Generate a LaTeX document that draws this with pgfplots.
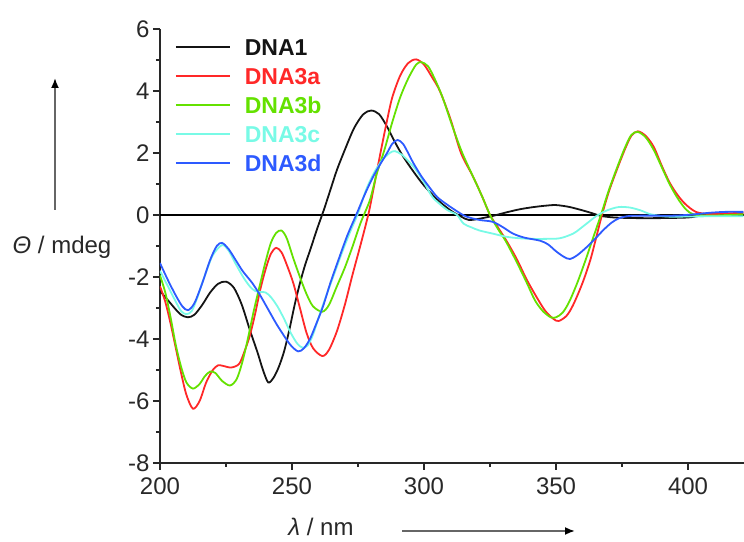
\documentclass[border=0pt]{standalone}
\usepackage{fontspec}
\setmainfont{Liberation Sans}
\usepackage{pgfplots}
\pgfplotsset{compat=1.18}
\usetikzlibrary{arrows.meta}

\definecolor{cdna1}{RGB}{20,20,20}
\definecolor{cdna3a}{RGB}{255,40,40}
\definecolor{cdna3b}{RGB}{100,225,0}
\definecolor{cdna3c}{RGB}{120,250,230}
\definecolor{cdna3d}{RGB}{45,90,255}
\definecolor{axgray}{RGB}{40,40,40}

\newcommand{\bigfont}{\fontsize{24}{28}\selectfont}
\newcommand{\legfont}{\fontsize{23}{27}\selectfont}

\begin{document}
\begin{tikzpicture}
\begin{axis}[
  scale only axis, width=584pt, height=434pt,
  xmin=200, xmax=421.2, ymin=-8, ymax=6,
  axis x line=bottom, axis y line=left,
  axis line style={-, line width=1.3pt, axgray},
  xtick={200,250,...,400}, minor x tick num=1,
  ytick={-8,-6,...,6}, minor y tick num=1,
  tick align=outside,
  major tick length=7pt, minor tick length=4pt,
  every tick/.style={line width=1.2pt, axgray},
  tick label style={font=\bigfont, text=axgray},
  xticklabel style={yshift=-4pt},
  /pgf/number format/assume math mode=true,
  legend cell align=left,
  legend image code/.code={\draw[#1, line width=1.6pt] (0pt,0pt) -- (54pt,0pt);},
  legend style={at={(rel axis cs:0,1)}, anchor=north west,
    xshift=15pt, yshift=-10pt, draw=none, fill=none, inner sep=0pt,
    row sep=13pt, font=\legfont\bfseries,
    nodes={inner sep=0pt, text height=16pt, text depth=0pt},
    /tikz/every odd column/.append style={column sep=14pt}},
  every axis plot/.append style={line width=1.8pt, smooth},
]
\addplot[black, line width=1.5pt, sharp plot, forget plot] coordinates {(200,0) (421.2,0)};

% DNA1
\addplot[cdna1] coordinates {
(200,-2.45) (203,-2.75) (206,-3.05) (208,-3.22) (210.5,-3.3) (213,-3.22) (216,-2.9)
(219,-2.5) (222,-2.22) (225,-2.15) (228,-2.35) (231,-2.9) (234,-3.7) (237,-4.45)
(239,-5.0) (241,-5.4) (243,-5.25) (245,-4.9) (247,-4.4) (249,-3.7) (251,-2.9)
(253,-2.2) (255,-1.6) (257,-1.1) (259.5,-0.45) (262,0.15) (264.5,0.8) (267,1.45)
(270,2.1) (273.5,2.8) (277,3.25) (280,3.37) (283,3.25) (286,2.85) (289,2.35)
(292,1.9) (296,1.4) (300,0.95) (305,0.5) (310,0.15) (314,-0.05) (317,-0.16)
(321,-0.12) (326,-0.03) (331,0.08) (336,0.18) (341,0.25) (346,0.3) (350,0.32)
(355,0.26) (360,0.15) (364,0.05) (367,-0.03) (372,-0.08) (380,-0.1) (390,-0.1)
(400,-0.08) (405,-0.02) (412,0.02) (421,0.02)
};
\addlegendentry{\textcolor{cdna1}{DNA1}}

% DNA3a
\addplot[cdna3a] coordinates {
(200,-2.3) (202,-2.8) (204,-3.5) (206,-4.3) (208,-5.1) (210,-5.8) (212.5,-6.25)
(215,-6.0) (217.5,-5.4) (220,-5.0) (222,-4.85) (224,-4.87) (227,-4.92) (230,-4.8)
(232,-4.4) (234,-3.9) (236,-3.2) (238,-2.4) (240,-1.75) (242,-1.25) (244,-1.06)
(246,-1.2) (248,-1.6) (250.5,-2.2) (253,-3.0) (255.5,-3.8) (258,-4.3) (261.5,-4.55)
(264,-4.35) (267,-3.75) (270,-2.9) (273,-1.9) (276,-0.95) (279,0.05) (281,0.9)
(283.5,2.0) (286,3.05) (288,3.8) (291,4.5) (294,4.9) (297,5.02) (300,4.85)
(303,4.45) (306,4.0) (310,3.1) (314,2.0) (318.5,1.25) (322,0.6) (325,0) (328,-0.4)
(331,-0.8) (335,-1.4) (339,-2.1) (343,-2.7) (346,-3.1) (349,-3.35) (351,-3.42)
(354,-3.25) (356.5,-2.9) (360,-2.2) (363,-1.45) (365,-0.8) (367.4,0) (370,0.75)
(373,1.45) (376,2.1) (378.5,2.55) (381,2.7) (384,2.55) (387,2.2) (390,1.6)
(393,1.05) (396,0.65) (399,0.35) (403,0.1) (408,0.03) (415,0.05) (421,0.08)
};
\addlegendentry{\textcolor{cdna3a}{DNA3a}}

% DNA3b
\addplot[cdna3b] coordinates {
(200,-1.95) (202,-2.5) (204,-3.3) (206,-4.2) (208,-4.9) (210,-5.4) (212.5,-5.6)
(215,-5.45) (217,-5.2) (219,-5.05) (221,-5.1) (223.5,-5.35) (226.5,-5.5) (229,-5.3)
(231,-4.8) (233,-4.1) (235.5,-3.1) (238,-2.2) (240,-1.5) (242,-0.9) (244,-0.58)
(246,-0.5) (248,-0.75) (250.5,-1.4) (253,-2.0) (255.5,-2.55) (258,-2.95)
(261.5,-3.12) (264,-2.9) (267,-2.3) (270,-1.7) (273,-1.0) (276,-0.25) (279.5,0.48)
(282,1.3) (285,2.1) (288,3.0) (291,3.8) (294,4.4) (297,4.85) (299,4.93)
(301.5,4.8) (304,4.4) (307,3.8) (311,2.8) (314.5,2.0) (318.5,1.25) (322,0.6)
(325,0) (328,-0.45) (331,-0.85) (335,-1.5) (339,-2.2) (342,-2.75) (345,-3.1)
(348,-3.3) (350,-3.3) (352.5,-3.15) (355,-2.8) (358,-2.2) (361,-1.5) (364,-0.75)
(367,0) (370,0.8) (373,1.5) (376,2.15) (378.5,2.58) (381,2.68) (384,2.5) (387,2.1)
(390,1.55) (393,1.0) (396,0.55) (399,0.2) (402,0.02) (408,-0.02) (415,0.0) (421,0.02)
};
\addlegendentry{\textcolor{cdna3b}{DNA3b}}

% DNA3c
\addplot[cdna3c] coordinates {
(200,-1.8) (203,-2.3) (206,-2.8) (208,-3.1) (210,-3.2) (212,-3.1) (214,-2.7)
(217,-1.95) (220,-1.3) (223.5,-0.97) (226,-1.15) (228.5,-1.55) (231.5,-2.0)
(234,-2.3) (236,-2.45) (238,-2.48) (240,-2.5) (242,-2.65) (244.5,-2.95) (247,-3.35)
(249.5,-3.8) (252,-4.15) (254,-4.28) (256,-4.2) (258,-3.85) (260.5,-3.2) (263,-2.6)
(266,-1.9) (269,-1.2) (272,-0.55) (275,0.05) (278,0.8) (281,1.35) (284,1.75)
(287,2.0) (289,2.06) (291.5,1.95) (294,1.75) (297,1.45) (300,1.05) (303,0.6)
(306,0.35) (309,0.15) (312.5,0) (315,-0.28) (318,-0.4) (321,-0.5) (326,-0.6)
(331,-0.7) (336,-0.75) (341,-0.77) (346,-0.77) (351.5,-0.75) (356.5,-0.6)
(359,-0.45) (362,-0.25) (365,-0.05) (368,0.1) (371,0.2) (374,0.26) (378,0.24)
(382,0.15) (386,0.02) (392,-0.05) (400,-0.05) (410,-0.04) (421,-0.04)
};
\addlegendentry{\textcolor{cdna3c}{DNA3c}}

% DNA3d
\addplot[cdna3d] coordinates {
(200,-1.55) (203,-2.1) (206,-2.6) (208.5,-2.95) (210.6,-3.07) (213,-2.85) (216,-2.2)
(219,-1.45) (221.5,-1.0) (223.5,-0.9) (226,-1.1) (229,-1.5) (231.5,-1.83) (235,-2.2)
(238,-2.6) (241,-3.05) (244,-3.5) (247,-3.9) (249.5,-4.2) (252.3,-4.4) (254.5,-4.3)
(256.8,-4.0) (259,-3.55) (261.7,-2.96) (264.5,-2.2) (268,-1.35) (271,-0.65)
(274.6,0.06) (277.5,0.65) (280.7,1.23) (283.5,1.65) (286,2.0) (288,2.3) (290,2.42)
(292,2.3) (294,2.0) (296,1.67) (299,1.25) (302,0.9) (305,0.58) (308.5,0.35)
(312.5,0.12) (316,-0.05) (321,-0.16) (326,-0.22) (330,-0.4) (333.7,-0.6) (338,-0.73)
(344,-0.83) (347,-0.95) (350,-1.17) (353,-1.35) (355.3,-1.42) (358,-1.3)
(361.7,-1.03) (365,-0.75) (368,-0.48) (371,-0.25) (374,-0.1) (378,-0.03) (385,-0.02)
(395,-0.02) (402,0.02) (408,0.07) (414,0.1) (421,0.1)
};
\addlegendentry{\textcolor{cdna3d}{DNA3d}}
\end{axis}

% axis descriptions with arrows
\node[font=\bigfont, text=axgray] at ([shift={(-98pt,216pt)}]current axis.south west) {\itshape Θ\upshape{} / mdeg};
\draw[line width=1.8pt, gray!80!black, -{Latex[length=10pt,width=8pt,black]}]
  ([shift={(-105pt,253pt)}]current axis.south west) -- ([shift={(-105pt,385pt)}]current axis.south west);
\node[font=\bigfont, text=axgray] at ([shift={(161pt,-64pt)}]current axis.south west) {\itshape λ\upshape{} / nm};
\draw[line width=1.8pt, gray!80!black, -{Latex[length=10pt,width=8pt,black]}]
  ([shift={(242pt,-68pt)}]current axis.south west) -- ([shift={(415pt,-68pt)}]current axis.south west);

\pgfresetboundingbox
\path[use as bounding box] ([shift={(-160pt,-79pt)}]current axis.south west) rectangle ([shift={(0pt,29pt)}]current axis.north east);
\end{tikzpicture}
\end{document}
